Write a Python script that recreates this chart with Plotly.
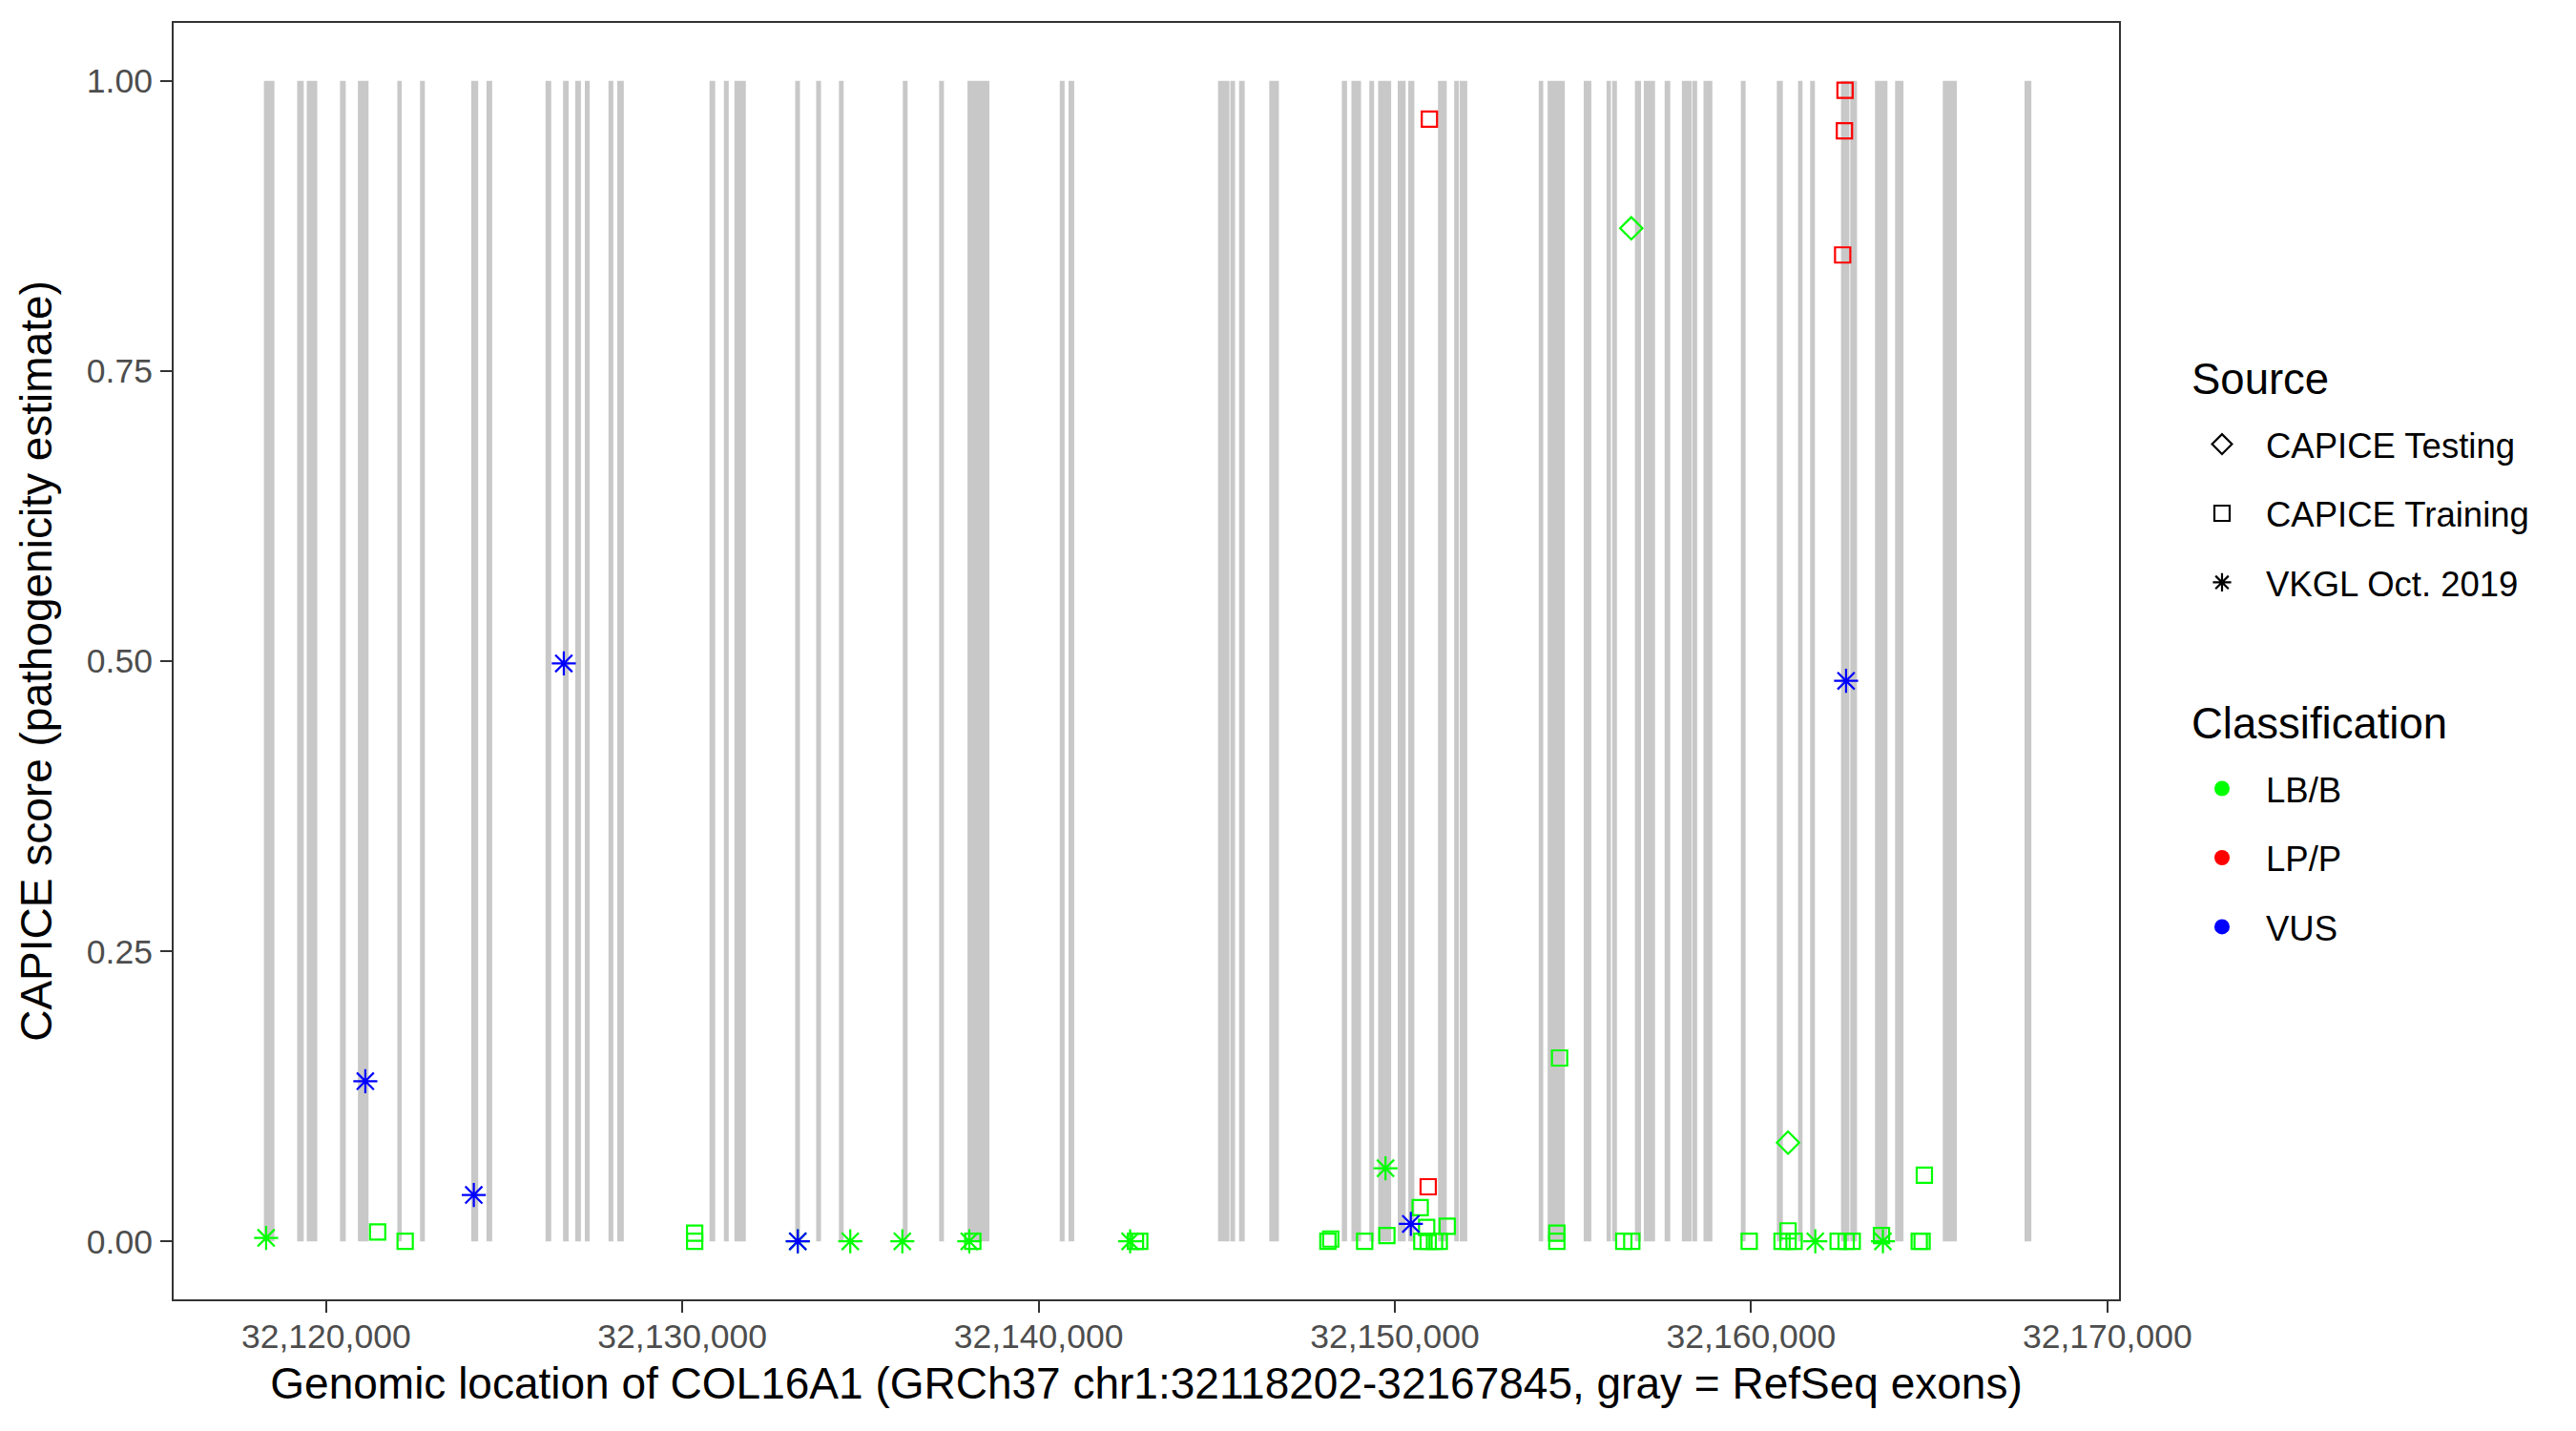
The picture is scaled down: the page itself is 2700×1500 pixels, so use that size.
import plotly.graph_objects as go

# ---------------- data ----------------
exon_start = [32118254, 32119187, 32119457, 32120390, 32120893, 32121999, 32122636, 32124074,
              32124502, 32126159, 32126651, 32126993, 32127263, 32127926, 32128172, 32130762,
              32131166, 32131462, 32133168, 32133756, 32134395,
              32136188, 32137207, 32138003, 32140594, 32140840, 32145036, 32145381, 32145627,
              32146474, 32148511, 32148781, 32149284, 32149530, 32150080, 32150377, 32151211,
              32151666, 32151823,
              32154039, 32154288, 32155301, 32155942, 32156100, 32156739, 32156988, 32157573,
              32158057, 32158348, 32158664, 32159712, 32160722, 32161318, 32161658, 32162524,
              32162783, 32163478, 32164042, 32165381, 32167675]
exon_end = [32118549, 32119372, 32119751, 32120551, 32121190, 32122122, 32122772, 32124269,
            32124662, 32126319, 32126808, 32127153, 32127399, 32128062, 32128356, 32130922,
            32131302, 32131781, 32133301, 32133892, 32134528,
            32136322, 32137343, 32138618, 32140730, 32141000, 32145357, 32145515, 32145785,
            32146745, 32148658, 32149051, 32149418, 32149896, 32150302, 32150548, 32151457,
            32151799, 32152032,
            32154165, 32154771, 32155515, 32156065, 32156234, 32156910, 32157303, 32157731,
            32158327, 32158485, 32158912, 32159845, 32160891, 32161444, 32161791, 32162759,
            32162973, 32163828, 32164277, 32165774, 32167867]

# variants: position, CAPICE score, source, classification
var_pos = [
    # VKGL Oct. 2019
    32118316, 32121101, 32124146, 32126672, 32133240, 32133240, 32134713, 32136175,
    32138054, 32142569, 32149738, 32150449, 32161802, 32162666, 32163700,
    # CAPICE Training
    32121446, 32122219, 32130345, 32130345, 32138153, 32142719, 32142839, 32148120,
    32148200, 32149153, 32149776, 32150711, 32150893, 32151470, 32150757, 32150936,
    32151113, 32151247, 32154624, 32154547, 32154547, 32156426, 32156651, 32159947,
    32160869, 32161037, 32161037, 32161206, 32162444, 32162668, 32162839, 32163660,
    32164720, 32164800, 32164863,
    32150936, 32150970, 32162637, 32162620, 32162570,
    # CAPICE Testing
    32156637, 32161037,
]
var_score = [
    0.003, 0.138, 0.040, 0.498, 0.000, 0.000, 0.000, 0.000,
    0.000, 0.000, 0.063, 0.015, 0.000, 0.483, 0.000,
    0.008, 0.000, 0.007, 0.000, 0.000, 0.000, 0.000, 0.000,
    0.002, 0.000, 0.005, 0.029, 0.012, 0.013, 0.000, 0.000,
    0.000, 0.000, 0.158, 0.007, 0.000, 0.000, 0.000, 0.000,
    0.000, 0.009, 0.000, 0.000, 0.000, 0.000, 0.000, 0.005,
    0.000, 0.000, 0.057,
    0.047, 0.967, 0.992, 0.957, 0.850,
    0.873, 0.085,
]
var_source = (["VKGL Oct. 2019"] * 15 + ["CAPICE Training"] * 40 + ["CAPICE Testing"] * 2)
var_class = [
    "LB/B", "VUS", "VUS", "VUS", "LB/B", "VUS", "LB/B", "LB/B",
    "LB/B", "LB/B", "LB/B", "VUS", "LB/B", "VUS", "LB/B",
] + ["LB/B"] * 35 + ["LP/P"] * 5 + ["LB/B", "LB/B"]

source_levels = ["CAPICE Testing", "CAPICE Training", "VKGL Oct. 2019"]
class_levels = ["LB/B", "LP/P", "VUS"]
x_ticks = [32120000, 32130000, 32140000, 32150000, 32160000, 32170000]
y_ticks = [0.0, 0.25, 0.5, 0.75, 1.0]
y_tick_text = ["0.00", "0.25", "0.50", "0.75", "1.00"]

# ---------------- styles ----------------
FONT = "Liberation Sans, Arial, Helvetica, sans-serif"
class_color = {"LB/B": "#00FF00", "LP/P": "#FF0000", "VUS": "#0000FF"}
source_symbol = {"CAPICE Testing": "diamond-open", "CAPICE Training": "square-open",
                 "VKGL Oct. 2019": "asterisk-open"}
source_size = {"CAPICE Testing": 18, "CAPICE Training": 16, "VKGL Oct. 2019": 21}

fig = go.Figure()

# exons as gray rectangles
for s, e in zip(exon_start, exon_end):
    fig.add_shape(type="rect", xref="x", yref="y", x0=s, x1=e, y0=0, y1=1,
                  fillcolor="#C8C8C8", line=dict(width=0), layer="below")

# data points
for cl in class_levels:
    for src in source_levels:
        xs = [p for p, so, c in zip(var_pos, var_source, var_class) if so == src and c == cl]
        ys = [v for v, so, c in zip(var_score, var_source, var_class) if so == src and c == cl]
        if not xs:
            continue
        fig.add_trace(go.Scatter(
            x=xs, y=ys, mode="markers", showlegend=False,
            marker=dict(symbol=source_symbol[src], size=source_size[src],
                        color=class_color[cl], line=dict(width=2.2, color=class_color[cl])),
        ))

# legend entries: Source
for src in source_levels:
    fig.add_trace(go.Scatter(
        x=[None], y=[None], mode="markers", name=src, legend="legend", legendgroup=src,
        marker=dict(symbol=source_symbol[src], size=source_size[src], color="black",
                    line=dict(width=2.2, color="black")),
    ))
# legend entries: Classification
for cl in class_levels:
    fig.add_trace(go.Scatter(
        x=[None], y=[None], mode="markers", name=cl, legend="legend2", legendgroup=cl,
        marker=dict(symbol="circle", size=16, color=class_color[cl]),
    ))

axis_common = dict(
    showgrid=False, zeroline=False, showline=True, mirror=True,
    linecolor="#333333", linewidth=2, ticks="outside", ticklen=12, tickwidth=2,
    tickcolor="#333333", tickfont=dict(family=FONT, size=35.5, color="#4D4D4D"),
)

legend_common = dict(
    font=dict(family=FONT, size=36.5, color="black"),
    xanchor="left", yanchor="top", tracegroupgap=22, itemwidth=82,
    bgcolor="rgba(0,0,0,0)",
)

fig.update_layout(
    width=2700, height=1500,
    margin=dict(l=174, r=487, t=16, b=146),
    paper_bgcolor="white", plot_bgcolor="white",
    font=dict(family=FONT, color="black"),
    xaxis=dict(
        range=[32115720, 32170327], tickvals=x_ticks, tickformat=",d",
        ticklabelstandoff=-6,
        title=dict(text="Genomic location of COL16A1 (GRCh37 chr1:32118202-32167845, gray = RefSeq exons)",
                   font=dict(family=FONT, size=46, color="black"), standoff=14),
        **axis_common,
    ),
    yaxis=dict(
        range=[-0.05, 1.05], tickvals=y_ticks, ticktext=y_tick_text,
        ticklabelstandoff=1,
        title=dict(text="CAPICE score (pathogenicity estimate)",
                   font=dict(family=FONT, size=46, color="black"), standoff=22),
        **axis_common,
    ),
    legend=dict(x=1.0304, y=0.6926, **legend_common),
    legend2=dict(x=1.0304, y=0.4228, **legend_common),
    annotations=[
        dict(text="Source", xref="paper", yref="paper", x=1.0363, y=0.7205,
             xanchor="left", yanchor="middle", showarrow=False,
             font=dict(family=FONT, size=45.5, color="black")),
        dict(text="Classification", xref="paper", yref="paper", x=1.0363, y=0.4507,
             xanchor="left", yanchor="middle", showarrow=False,
             font=dict(family=FONT, size=45.5, color="black")),
    ],
)

fig.write_html("out.html")
